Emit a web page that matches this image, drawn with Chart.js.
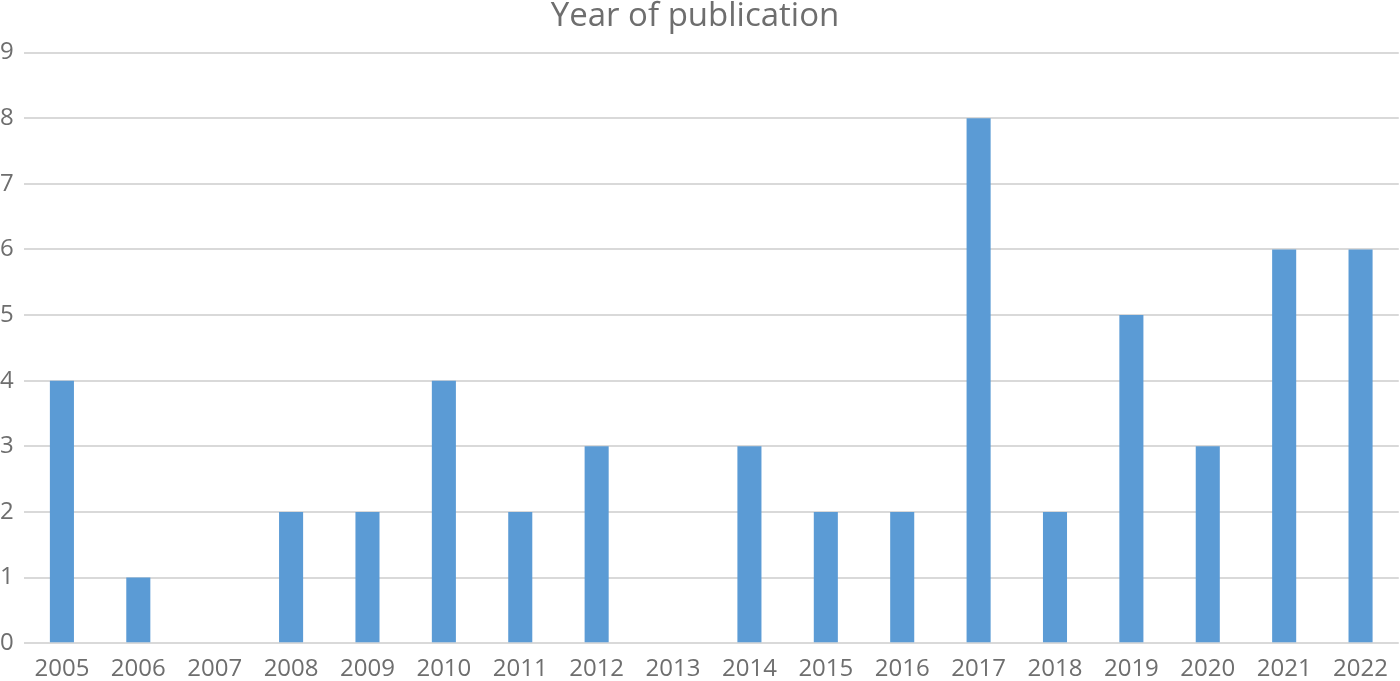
<!DOCTYPE html>
<html>
<head>
<meta charset="utf-8">
<script src="https://cdn.jsdelivr.net/npm/chart.js@4"></script>
<style>
html,body{margin:0;padding:0;background:#fff;}
#wrap{width:1400px;height:681px;position:relative;}
</style>
</head>
<body>
<div id="wrap"><canvas id="c" width="1400" height="681"></canvas></div>
<script>
const categories = ["2005","2006","2007","2008","2009","2010","2011","2012","2013","2014","2015","2016","2017","2018","2019","2020","2021","2022"];
const values = [4,1,0,2,2,4,2,3,0,3,2,2,8,2,5,3,6,6];
const titleText = "Year of publication";

const textColor = "#6e6e6e";
const fontFam = "'Open Sans', 'Liberation Sans', sans-serif";

new Chart(document.getElementById('c'), {
  type: 'bar',
  data: {
    labels: categories,
    datasets: [{
      data: values,
      backgroundColor: '#5B9BD5',
      borderWidth: 0,
      barPercentage: 0.63,
      categoryPercentage: 0.5
    }]
  },
  options: {
    responsive: false,
    animation: false,
    layout: { padding: { left: -10, right: 0, top: -3, bottom: -15 } },
    plugins: {
      legend: { display: false },
      tooltip: { enabled: false },
      title: {
        display: true,
        text: titleText,
        color: textColor,
        font: { family: fontFam, size: 33, weight: 'normal', lineHeight: 1.2 },
        padding: { top: 0, bottom: 16 }
      }
    },
    scales: {
      x: {
        grid: { display: false, drawTicks: false },
        border: { display: false },
        ticks: { color: textColor, font: { family: fontFam, size: 24 }, padding: 12, maxRotation: 0 }
      },
      y: {
        min: 0, max: 9,
        grid: { color: '#D9D9D9', lineWidth: 2, drawTicks: false },
        border: { display: false },
        ticks: { stepSize: 1, color: textColor, font: { family: fontFam, size: 24 }, padding: 10 }
      }
    }
  }
});
</script>
</body>
</html>
